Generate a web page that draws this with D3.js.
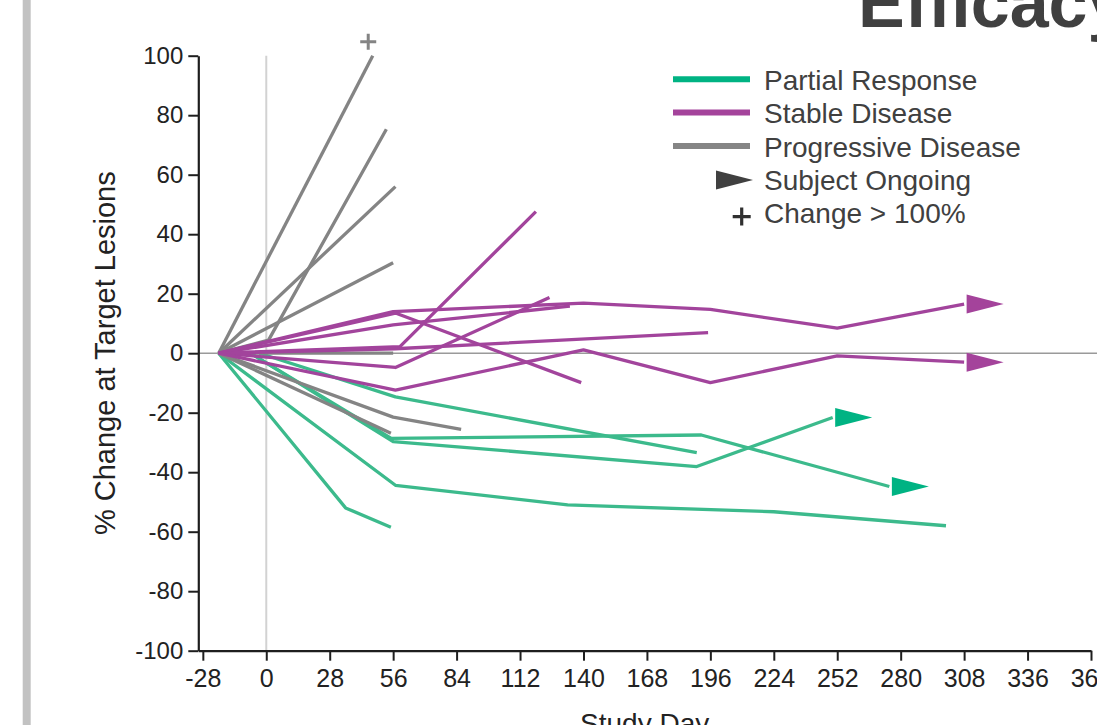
<!DOCTYPE html>
<html>
<head>
<meta charset="utf-8">
<script src="https://cdn.jsdelivr.net/npm/d3@7"></script>
<style>
  html, body { margin: 0; padding: 0; background: #fff; overflow: hidden; }
  svg { display: block; font-family: "Liberation Sans", Arial, sans-serif; }
</style>
</head>
<body>
<svg id="chart" width="1097" height="725"></svg>
<script>
// ---- data (study day, % change) ----
const partialResponse = [
  [[-21, 0], [35, -52], [55, -58.5]],
  [[-3, 0], [57, -14.7], [190, -33.4]],
  [[-7, 0], [55, -28.6], [192, -27.5], [275, -44.8]],
  [[-7, 0], [56, -29.7], [190, -38.1], [250, -21.6]],
  [[-21, 0], [57, -44.4], [133, -51], [224, -53.3], [300, -58]]
];
const partialOngoing = [false, false, true, true, false];

const stableDisease = [
  [[-21, 0], [59, 2.2], [119, 47.6]],
  [[-21, 0], [57, -4.8], [125, 18.7]],
  [[-21, 0], [56, 14], [140, 16.8], [196, 14.7], [252, 8.4], [308, 16.5]],
  [[-21, 0], [56, 9.5], [134, 15.8]],
  [[-21, 0], [57, 13.5], [139, -9.9]],
  [[-21, 0], [57, 1.5], [195, 6.9]],
  [[-21, 0], [57, -12.4], [140, 1.1], [196, -9.9], [252, -0.9], [308, -3]]
];
const stableOngoing = [false, false, true, false, false, false, true];

const progressiveDisease = [
  [[-21, 0], [47, 100]],
  [[-21, 0], [1, 4.4], [53, 75.3]],
  [[-21, 0], [57, 56]],
  [[-21, 0], [56, 30.4]],
  [[-21, 0], [56, 0]],
  [[-21, 0], [56, -21.5], [86, -25.6]],
  [[-21, 0], [55, -26.9]]
];
const overflowMarks = [[45, 105]];

const xTickValues = [-28, 0, 28, 56, 84, 112, 140, 168, 196, 224, 252, 280, 308, 336, 364];
const xMinorValues = [-14, 14, 42, 70, 98, 126, 154, 182, 210, 238, 266, 294, 322, 350];
const yTickValues = [-100, -80, -60, -40, -20, 0, 20, 40, 60, 80, 100];
const yMinorValues = [-90, -70, -50, -30, -10, 10, 30, 50, 70, 90];

const legendItems = ["Partial Response", "Stable Disease", "Progressive Disease", "Subject Ongoing", "Change > 100%"];

// ---- styles ----
const C = {
  green: "#3cba8c", greenSolid: "#00b383",
  purple: "#a2449c", purpleSolid: "#a4439b",
  gray: "#848484", axis: "#1e1e1e", text: "#222", legendText: "#404040"
};

const svg = d3.select("#chart");
const x = d3.scaleLinear().domain([-30, 364]).range([198.3, 1091]);
const y = d3.scaleLinear().domain([-100, 100]).range([650.7, 55.7]);
const plain = d => String(d);

// left decorative bar
svg.append("rect").attr("x", 22.7).attr("y", 0).attr("width", 8).attr("height", 725).attr("fill", "#c2c2c2");

// title (cropped)
svg.append("text").attr("x", 858).attr("y", 27)
  .attr("font-size", 70).attr("font-weight", "bold").attr("fill", "#404040")
  .text("Efficacy");

// reference lines
svg.append("line").attr("x1", x(0)).attr("x2", x(0)).attr("y1", y(100)).attr("y2", y(-100))
  .attr("stroke", "#d2d2d2").attr("stroke-width", 2);
svg.append("line").attr("x1", x(-30)).attr("x2", 1097).attr("y1", y(0)).attr("y2", y(0))
  .attr("stroke", "#9a9a9a").attr("stroke-width", 1.6);

// axes
const gx = svg.append("g").attr("transform", `translate(0,${y(-100)})`);
gx.call(d3.axisBottom(x).tickValues(xMinorValues).tickSize(5).tickFormat("").tickSizeOuter(0));
gx.call(d3.axisBottom(x).tickValues(xTickValues).tickSize(10).tickSizeOuter(0).tickPadding(9).tickFormat(plain));
const gy = svg.append("g").attr("transform", `translate(${x(-30)},0)`);
gy.call(d3.axisLeft(y).tickValues(yMinorValues).tickSize(6).tickFormat("").tickSizeOuter(0));
gy.call(d3.axisLeft(y).tickValues(yTickValues).tickSize(10).tickSizeOuter(0).tickPadding(5).tickFormat(plain));

svg.selectAll(".domain").attr("stroke", C.axis).attr("stroke-width", 2.2);
svg.selectAll(".tick line").attr("stroke", C.axis).attr("stroke-width", 2);
gx.selectAll(".tick text").attr("font-size", 25).attr("fill", C.text)
  .attr("font-family", "'Liberation Sans', Arial, sans-serif");
gy.selectAll(".tick text").attr("font-size", 24).attr("fill", C.text)
  .attr("font-family", "'Liberation Sans', Arial, sans-serif");

// axis titles
svg.append("text").attr("x", (x(-30) + x(364)) / 2).attr("y", 733)
  .attr("text-anchor", "middle").attr("font-size", 28).attr("fill", C.text).text("Study Day");
svg.append("text").attr("transform", `translate(115,${(y(100) + y(-100)) / 2}) rotate(-90)`)
  .attr("text-anchor", "middle").attr("font-size", 29).attr("fill", C.text)
  .text("% Change at Target Lesions");

// lines
const line = d3.line().x(d => x(d[0])).y(d => y(d[1]));
function drawGroup(data, color) {
  svg.append("g").selectAll("path").data(data).join("path")
    .attr("d", line).attr("fill", "none").attr("stroke", color)
    .attr("stroke-width", 3.3).attr("stroke-linejoin", "round").attr("stroke-linecap", "butt");
}
function drawArrows(data, flags, color) {
  const ends = data.filter((d, i) => flags[i]).map(d => d[d.length - 1]);
  svg.append("g").selectAll("path").data(ends).join("path")
    .attr("transform", d => `translate(${x(d[0]) + 2.5},${y(d[1])})`)
    .attr("d", "M0,-9.5L37,0L0,9.5Z").attr("fill", color);
}
drawGroup(partialResponse, C.green);
drawGroup(progressiveDisease, C.gray);
drawGroup(stableDisease, C.purple);
drawArrows(partialResponse, partialOngoing, C.greenSolid);
drawArrows(stableDisease, stableOngoing, C.purpleSolid);

// > 100% marks
svg.append("g").selectAll("path").data(overflowMarks).join("path")
  .attr("transform", d => `translate(${x(d[0])},${y(d[1]) + 1})`)
  .attr("d", "M-8,0H8M0,-8V8").attr("stroke", C.gray).attr("stroke-width", 3).attr("fill", "none");

// legend
const lg = svg.append("g").attr("font-size", 28).attr("fill", C.legendText);
const swatchColors = [C.greenSolid, C.purpleSolid, "#858585"];
legendItems.forEach((t, i) => {
  const by = 90 + i * 33.3;
  lg.append("text").attr("x", 764).attr("y", by).text(t);
  if (i < 3) {
    lg.append("line").attr("x1", 673).attr("x2", 750).attr("y1", by - 10.7).attr("y2", by - 10.7)
      .attr("stroke", swatchColors[i]).attr("stroke-width", 6);
  } else if (i === 3) {
    lg.append("path").attr("transform", `translate(716,${by - 10})`)
      .attr("d", "M0,-9.5L37,0L0,9.5Z").attr("fill", "#404040");
  } else {
    lg.append("path").attr("transform", `translate(741.7,${by - 6.6})`)
      .attr("d", "M-9,0H9M0,-9V9").attr("stroke", "#303030").attr("stroke-width", 3.2).attr("fill", "none");
  }
});
</script>
</body>
</html>
